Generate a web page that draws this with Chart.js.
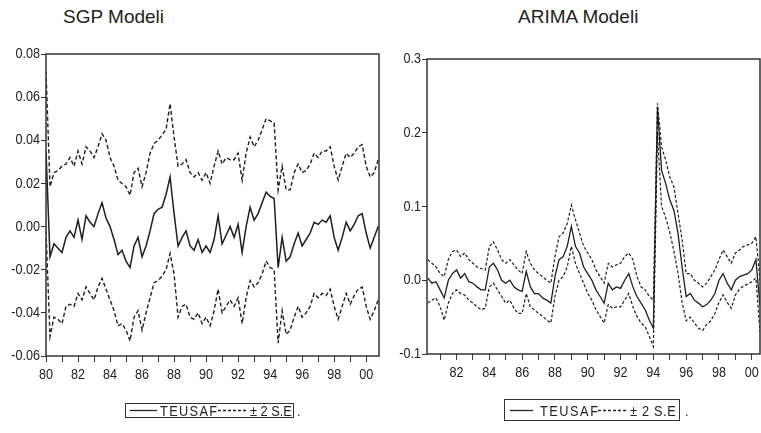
<!DOCTYPE html>
<html>
<head>
<meta charset="utf-8">
<script src="https://cdn.jsdelivr.net/npm/chart.js@4.4.1/dist/chart.umd.min.js"></script>
<style>
  html, body { margin: 0; padding: 0; background: #fff; }
  #wrap { position: relative; width: 761px; height: 433px; overflow: hidden; background: #fff;
          font-family: 'Liberation Sans', Arial, sans-serif; color: #222; }
  canvas { position: absolute; top: 0; }
  .title { position: absolute; top: 6px; font-size: 19px; white-space: nowrap; }
  .lg { position: absolute; font-family: 'Liberation Sans', Arial, sans-serif; font-size: 15px; line-height: 15px;
        white-space: nowrap; color: #222; transform: scaleX(0.85); transform-origin: 0 0; }
  .box { position: absolute; border: 1.3px solid #333; box-sizing: border-box; }
  svg { position: absolute; overflow: visible; }
</style>
</head>
<body>
<div id="wrap">
  <div class="title" style="left:63px">SGP Modeli</div>
  <div class="title" style="left:518px">ARIMA Modeli</div>
  <canvas id="sgp" width="380" height="433" style="left:0"></canvas>
  <canvas id="arima" width="381" height="433" style="left:380px"></canvas>

  <!-- legend, left panel -->
  <div class="box" style="left:125px;top:403px;width:169px;height:15px"></div>
  <svg style="left:130px;top:410px" width="28" height="2"><line x1="0" y1="0.5" x2="27" y2="0.5" stroke="#222" stroke-width="1.3"/></svg>
  <div class="lg" style="left:160px;top:403px;letter-spacing:1.6px">TEUSAF</div>
  <svg style="left:218px;top:410px" width="30" height="2"><line x1="0" y1="0.5" x2="29" y2="0.5" stroke="#222" stroke-width="1.3" stroke-dasharray="3 2"/></svg>
  <div class="lg" style="left:250px;top:403px">± 2 S.E</div>
  <div class="lg" style="left:297px;top:403px">.</div>

  <!-- legend, right panel -->
  <div class="box" style="left:504px;top:399px;width:176px;height:22px"></div>
  <svg style="left:510px;top:410px" width="24" height="2"><line x1="0" y1="0.5" x2="23" y2="0.5" stroke="#222" stroke-width="1.3"/></svg>
  <div class="lg" style="left:540px;top:403px;letter-spacing:1.8px">TEUSAF</div>
  <svg style="left:598px;top:410px" width="30" height="2"><line x1="0" y1="0.5" x2="29" y2="0.5" stroke="#222" stroke-width="1.3" stroke-dasharray="3 2"/></svg>
  <div class="lg" style="left:630px;top:403px;letter-spacing:0.8px">± 2 S.E</div>
  <div class="lg" style="left:685px;top:403px">.</div>
</div>

<script>
// ---- SGP model: quarterly sample 1980-2000 ----
const sgpQuarters = [
  1980, 1980.25, 1980.5, 1980.75, 1981, 1981.25, 1981.5, 1981.75,
  1982, 1982.25, 1982.5, 1982.75, 1983, 1983.25, 1983.5, 1983.75,
  1984, 1984.25, 1984.5, 1984.75, 1985, 1985.25, 1985.5, 1985.75,
  1986, 1986.25, 1986.5, 1986.75, 1987, 1987.25, 1987.5, 1987.75,
  1988, 1988.25, 1988.5, 1988.75, 1989, 1989.25, 1989.5, 1989.75,
  1990, 1990.25, 1990.5, 1990.75, 1991, 1991.25, 1991.5, 1991.75,
  1992, 1992.25, 1992.5, 1992.75, 1993, 1993.25, 1993.5, 1993.75,
  1994, 1994.25, 1994.5, 1994.75, 1995, 1995.25, 1995.5, 1995.75,
  1996, 1996.25, 1996.5, 1996.75, 1997, 1997.25, 1997.5, 1997.75,
  1998, 1998.25, 1998.5, 1998.75, 1999, 1999.25, 1999.5, 1999.75,
  2000, 2000.25, 2000.5, 2000.75
];
const sgpTeusaf = [
  0.035, -0.014, -0.008, -0.010, -0.012, -0.005, -0.002, -0.005, 0.003, -0.006,
  0.005, 0.002, 0.000, 0.006, 0.011, 0.004, 0.000, -0.006, -0.013, -0.011,
  -0.016, -0.019, -0.009, -0.005, -0.014, -0.009, -0.002, 0.006, 0.008, 0.009,
  0.015, 0.023, 0.006, -0.009, -0.005, -0.002, -0.009, -0.011, -0.006, -0.012,
  -0.009, -0.012, -0.006, 0.005, -0.008, -0.004, 0.000, -0.005, 0.001, -0.012,
  0.000, 0.009, 0.003, 0.006, 0.011, 0.016, 0.014, 0.013, -0.019, -0.005,
  -0.016, -0.014, -0.008, -0.003, -0.009, -0.006, -0.003, 0.002, 0.001, 0.003,
  0.002, 0.005, -0.005, -0.011, -0.005, 0.002, -0.002, 0.001, 0.005, 0.006,
  -0.003, -0.010, -0.005, 0.000
];
const sgpUpper = [
  0.072, 0.0185, 0.025, 0.026, 0.028, 0.029, 0.032, 0.028, 0.035, 0.029,
  0.037, 0.035, 0.032, 0.037, 0.043, 0.040, 0.032, 0.028, 0.0215, 0.020,
  0.0185, 0.0145, 0.025, 0.027, 0.0185, 0.025, 0.034, 0.0385, 0.040, 0.0425,
  0.045, 0.057, 0.0415, 0.028, 0.029, 0.031, 0.025, 0.023, 0.025, 0.0215,
  0.025, 0.020, 0.028, 0.035, 0.029, 0.032, 0.031, 0.031, 0.034, 0.0215,
  0.034, 0.0415, 0.037, 0.040, 0.045, 0.050, 0.049, 0.048, 0.017, 0.028,
  0.017, 0.017, 0.025, 0.029, 0.025, 0.026, 0.029, 0.034, 0.032, 0.035,
  0.035, 0.037, 0.028, 0.0215, 0.028, 0.034, 0.032, 0.034, 0.037, 0.038,
  0.028, 0.023, 0.025, 0.031
];
const sgpLower = [
  -0.002, -0.051, -0.042, -0.043, -0.045, -0.037, -0.036, -0.037, -0.031, -0.034,
  -0.028, -0.031, -0.034, -0.028, -0.024, -0.029, -0.034, -0.039, -0.046, -0.045,
  -0.048, -0.053, -0.042, -0.039, -0.048, -0.040, -0.033, -0.026, -0.025, -0.023,
  -0.020, -0.0125, -0.022, -0.042, -0.037, -0.036, -0.042, -0.043, -0.040, -0.045,
  -0.042, -0.046, -0.039, -0.029, -0.040, -0.037, -0.034, -0.037, -0.033, -0.045,
  -0.033, -0.025, -0.028, -0.026, -0.022, -0.016, -0.019, -0.020, -0.054, -0.039,
  -0.050, -0.048, -0.042, -0.037, -0.042, -0.040, -0.037, -0.031, -0.033, -0.031,
  -0.032, -0.029, -0.037, -0.043, -0.037, -0.031, -0.036, -0.032, -0.029, -0.028,
  -0.037, -0.043, -0.039, -0.034
];
const sgpYearTicks = [1980, 1981, 1982, 1983, 1984, 1985, 1986, 1987, 1988, 1989, 1990,
                      1991, 1992, 1993, 1994, 1995, 1996, 1997, 1998, 1999, 2000];
const sgpValueTicks = [-0.06, -0.04, -0.02, 0.00, 0.02, 0.04, 0.06, 0.08];

// ---- ARIMA model: quarterly sample 1980Q2-2000Q3 ----
const arimaQuarters = [
  1980.25, 1980.5, 1980.75, 1981, 1981.25, 1981.5, 1981.75, 1982, 1982.25, 1982.5,
  1982.75, 1983, 1983.25, 1983.5, 1983.75, 1984, 1984.25, 1984.5, 1984.75, 1985,
  1985.25, 1985.5, 1985.75, 1986, 1986.25, 1986.5, 1986.75, 1987, 1987.25, 1987.5,
  1987.75, 1988, 1988.25, 1988.5, 1988.75, 1989, 1989.25, 1989.5, 1989.75, 1990,
  1990.25, 1990.5, 1990.75, 1991, 1991.25, 1991.5, 1991.75, 1992, 1992.25, 1992.5,
  1992.75, 1993, 1993.25, 1993.5, 1993.75, 1994, 1994.25, 1994.5, 1994.75, 1995,
  1995.25, 1995.5, 1995.75, 1996, 1996.25, 1996.5, 1996.75, 1997, 1997.25, 1997.5,
  1997.75, 1998, 1998.25, 1998.5, 1998.75, 1999, 1999.25, 1999.5, 1999.75, 2000,
  2000.25, 2000.5
];
const arimaTeusaf = [
  0.003, -0.004, -0.002, -0.013, -0.024, 0.000, 0.009, 0.014, 0.003, 0.009,
  -0.002, -0.004, -0.009, -0.013, -0.013, 0.018, 0.023, 0.014, 0.000, -0.004,
  0.000, -0.009, -0.013, -0.015, 0.012, -0.009, -0.018, -0.018, -0.024, -0.027,
  -0.031, 0.005, 0.028, 0.032, 0.046, 0.073, 0.046, 0.037, 0.018, 0.009,
  0.000, -0.013, -0.022, -0.031, -0.004, -0.013, -0.009, -0.011, 0.000, 0.009,
  -0.009, -0.022, -0.031, -0.040, -0.054, -0.065, 0.235, 0.149, 0.131, 0.109,
  0.095, 0.064, 0.018, -0.022, -0.018, -0.027, -0.031, -0.036, -0.033, -0.027,
  -0.018, 0.000, 0.009, -0.004, -0.013, 0.000, 0.005, 0.007, 0.009, 0.014,
  0.028, -0.035
];
const arimaUpper = [
  0.028, 0.023, 0.018, 0.009, 0.005, 0.028, 0.039, 0.041, 0.032, 0.037,
  0.028, 0.023, 0.018, 0.016, 0.014, 0.046, 0.052, 0.041, 0.028, 0.023,
  0.028, 0.021, 0.014, 0.009, 0.039, 0.023, 0.014, 0.009, 0.005, 0.000,
  -0.004, 0.032, 0.059, 0.064, 0.077, 0.102, 0.082, 0.064, 0.046, 0.037,
  0.028, 0.014, 0.005, -0.004, 0.023, 0.018, 0.021, 0.023, 0.032, 0.037,
  0.028, 0.005, -0.009, -0.013, -0.022, -0.027, 0.240, 0.181, 0.163, 0.140,
  0.127, 0.091, 0.055, 0.009, 0.009, 0.000, -0.004, -0.009, -0.004, 0.005,
  0.014, 0.028, 0.041, 0.032, 0.023, 0.037, 0.041, 0.046, 0.048, 0.050,
  0.059, 0.000
];
const arimaLower = [
  -0.031, -0.027, -0.024, -0.036, -0.054, -0.031, -0.018, -0.013, -0.018, -0.020,
  -0.027, -0.031, -0.036, -0.040, -0.038, -0.009, -0.004, -0.013, -0.022, -0.031,
  -0.027, -0.038, -0.045, -0.045, -0.018, -0.036, -0.040, -0.045, -0.049, -0.054,
  -0.058, -0.022, 0.000, 0.005, 0.018, 0.046, 0.023, 0.009, -0.004, -0.018,
  -0.027, -0.040, -0.049, -0.058, -0.033, -0.038, -0.036, -0.036, -0.027, -0.018,
  -0.036, -0.049, -0.058, -0.063, -0.076, -0.090, 0.200, 0.100, 0.085, 0.065,
  0.040, 0.010, -0.030, -0.055, -0.050, -0.058, -0.065, -0.068, -0.060, -0.055,
  -0.045, -0.030, -0.020, -0.030, -0.038, -0.020, -0.012, -0.008, -0.005, -0.002,
  0.003, -0.070
];
const arimaYearTicks = [1981, 1982, 1983, 1984, 1985, 1986, 1987, 1988, 1989, 1990,
                        1991, 1992, 1993, 1994, 1995, 1996, 1997, 1998, 1999, 2000];
const arimaValueTicks = [-0.1, 0.0, 0.1, 0.2, 0.3];

// box around the plotting area
const frame = {
  id: 'frame',
  afterDatasetsDraw(chart) {
    const { ctx, chartArea: a } = chart;
    ctx.save();
    ctx.strokeStyle = '#333';
    ctx.lineWidth = 1.5;
    ctx.strokeRect(a.left, a.top, a.right - a.left, a.bottom - a.top);
    ctx.restore();
  }
};

// condensed tick labels, placed from the chart's own scales
const narrowLabels = {
  id: 'narrowLabels',
  afterDraw(chart, args, opts) {
    const { ctx, chartArea: a, scales: { x, y } } = chart;
    ctx.save();
    ctx.fillStyle = '#222';
    ctx.font = '15px "Liberation Sans", Arial, sans-serif';
    ctx.textBaseline = 'middle';
    for (const t of y.ticks) {
      ctx.save();
      ctx.translate(a.left - 6, y.getPixelForValue(t.value));
      ctx.scale(0.84, 1);
      ctx.textAlign = 'right';
      ctx.fillText(Number(t.value).toFixed(opts.dec), 0, 0);
      ctx.restore();
    }
    for (const t of x.ticks) {
      if (t.value % 2 !== 0) continue;
      ctx.save();
      ctx.translate(x.getPixelForValue(t.value), a.bottom + 19);
      ctx.scale(0.84, 1);
      ctx.textAlign = 'center';
      ctx.fillText(String(t.value).slice(2), 0, 0);
      ctx.restore();
    }
    ctx.restore();
  }
};

function panel(id, quarters, mid, upper, lower, o) {
  const pts = arr => quarters.map((t, i) => ({ x: t, y: arr[i] }));
  const line = { pointRadius: 0, tension: 0, borderColor: '#1e1e1e', fill: false };
  return new Chart(document.getElementById(id), {
    type: 'line',
    data: {
      datasets: [
        { ...line, label: '+2 S.E.', data: pts(upper), borderWidth: o.dashWidth, borderDash: o.dash },
        { ...line, label: 'TEUSAF', data: pts(mid), borderWidth: o.solidWidth },
        { ...line, label: '-2 S.E.', data: pts(lower), borderWidth: o.dashWidth, borderDash: o.dash }
      ]
    },
    options: {
      responsive: false,
      animation: false,
      devicePixelRatio: 1,
      layout: { padding: { top: o.top, right: 1, left: 0, bottom: 0 } },
      plugins: { legend: { display: false }, tooltip: { enabled: false }, narrowLabels: { dec: o.dec } },
      scales: {
        x: {
          type: 'linear', min: o.xmin, max: o.xmax,
          afterBuildTicks: s => { s.ticks = o.xTicks.map(v => ({ value: v })); },
          afterFit: s => { s.height = o.xh; },
          grid: { drawOnChartArea: false, drawTicks: true, tickLength: 6, color: '#333', lineWidth: 1 },
          border: { display: false },
          ticks: { display: false }
        },
        y: {
          min: o.ymin, max: o.ymax,
          afterBuildTicks: s => { s.ticks = o.yTicks.map(v => ({ value: v })); },
          afterFit: s => { s.width = o.yw; },
          grid: { drawOnChartArea: false, drawTicks: true, tickLength: 5, color: '#333', lineWidth: 1 },
          border: { display: false },
          ticks: { display: false }
        }
      }
    },
    plugins: [frame, narrowLabels]
  });
}

panel('sgp', sgpQuarters, sgpTeusaf, sgpUpper, sgpLower, {
  top: 54, xh: 77, yw: 46, xmin: 1980, xmax: 2000.8, ymin: -0.06, ymax: 0.08,
  xTicks: sgpYearTicks, yTicks: sgpValueTicks, dec: 2,
  solidWidth: 1.5, dashWidth: 1.4, dash: [4, 2.5]
});

panel('arima', arimaQuarters, arimaTeusaf, arimaUpper, arimaLower, {
  top: 59, xh: 79, yw: 47, xmin: 1980.2, xmax: 2000.5, ymin: -0.1, ymax: 0.3,
  xTicks: arimaYearTicks, yTicks: arimaValueTicks, dec: 1,
  solidWidth: 1.3, dashWidth: 1.2, dash: [3, 2]
});
</script>
</body>
</html>
